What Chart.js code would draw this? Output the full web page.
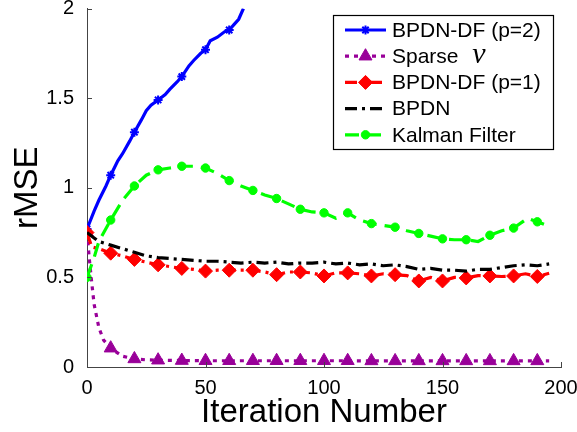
<!DOCTYPE html>
<html><head><meta charset="utf-8">
<script src="https://cdn.jsdelivr.net/npm/chart.js@4/dist/chart.umd.min.js"></script>
<style>html,body{margin:0;padding:0;background:#fff;overflow:hidden;}</style>
</head><body>
<canvas id="c" width="577" height="432"></canvas>
<script>
// ---- data ----
const xTicks = [0, 50, 100, 150, 200];
const yTicks = [0, 0.5, 1, 1.5, 2];
const xTitle = 'Iteration Number';
const yTitle = 'rMSE';
const seriesNames = ['BPDN-DF (p=2)', 'Sparse ', 'BPDN-DF (p=1)', 'BPDN', 'Kalman Filter'];

const bpdnDf2Iter = [0,3,5,8,10,13,15,18,20,23,25,27,30,33,35,38,40,43,45,48,50,52,55,58,60,62,64,66];
const bpdnDf2Rmse = [0.77,0.87,0.93,1.01,1.07,1.15,1.19,1.26,1.31,1.38,1.43,1.46,1.49,1.52,1.55,1.59,1.62,1.68,1.71,1.75,1.77,1.82,1.84,1.87,1.88,1.91,1.94,2.0];

const sparseIter = [0,1,2,3,5,7,10,15,20,25,30,40,50,60,70,80,90,100,110,120,130,140,150,160,170,180,190,195];
const sparseRmse = [0.75,0.60,0.47,0.35,0.22,0.15,0.105,0.06,0.045,0.04,0.038,0.036,0.035,0.035,0.035,0.035,0.035,0.035,0.035,0.034,0.034,0.034,0.034,0.034,0.034,0.034,0.034,0.034];

const bpdnDf1Iter = [0,2,5,10,15,20,25,30,35,40,45,50,55,60,65,70,75,80,85,90,95,100,105,110,115,120,125,130,135,140,145,150,155,160,165,170,175,180,185,190,195];
const bpdnDf1Rmse = [0.75,0.67,0.66,0.635,0.62,0.60,0.585,0.57,0.56,0.55,0.545,0.535,0.54,0.54,0.54,0.54,0.53,0.515,0.53,0.53,0.525,0.508,0.525,0.525,0.52,0.508,0.52,0.515,0.51,0.48,0.50,0.48,0.50,0.497,0.51,0.508,0.505,0.508,0.52,0.505,0.523];

const bpdnIter = [0,3,5,10,15,20,25,30,35,40,45,50,55,60,65,70,75,80,85,90,95,100,105,110,115,120,125,130,135,140,145,150,155,160,165,170,175,180,185,190,195];
const bpdnRmse = [0.75,0.72,0.70,0.68,0.66,0.64,0.62,0.61,0.605,0.60,0.595,0.59,0.59,0.585,0.58,0.585,0.58,0.585,0.575,0.58,0.58,0.585,0.575,0.58,0.57,0.575,0.565,0.57,0.56,0.545,0.55,0.54,0.54,0.535,0.545,0.545,0.555,0.565,0.57,0.565,0.575];

const kalmanIter = [0,3,5,10,15,20,25,30,35,40,45,50,55,60,65,70,75,80,85,90,95,100,105,110,115,120,125,130,135,140,145,150,155,160,165,170,175,180,186,190,195];
const kalmanRmse = [0.50,0.61,0.70,0.82,0.93,1.01,1.07,1.10,1.11,1.12,1.12,1.11,1.08,1.04,1.01,0.985,0.96,0.94,0.91,0.88,0.865,0.86,0.83,0.86,0.82,0.80,0.79,0.78,0.76,0.745,0.73,0.715,0.71,0.71,0.70,0.735,0.76,0.775,0.83,0.81,0.785];

const pts = (xs, ys) => xs.map((x, i) => ({x: x, y: ys[i]}));
const every10 = r => ctx => (ctx.raw && ctx.raw.x % 10 === 0 ? r : 0);

const datasets = [
  {label: seriesNames[0], data: pts(bpdnDf2Iter, bpdnDf2Rmse), borderColor: '#0000ff', backgroundColor: '#0000ff',
   borderWidth: 3.2, borderDash: [], pointStyle: 'star', pointRadius: every10(4.5), pointBorderWidth: 2, order: 4, legendR: 4.5},
  {label: seriesNames[1], data: pts(sparseIter, sparseRmse), borderColor: '#990099', backgroundColor: '#990099',
   borderWidth: 3.2, borderDash: [4, 5], pointStyle: 'triangle', pointRadius: every10(7.5), pointBorderWidth: 1, order: 3, legendR: 7.5},
  {label: seriesNames[2], data: pts(bpdnDf1Iter, bpdnDf1Rmse), borderColor: '#ff0000', backgroundColor: '#ff0000',
   borderWidth: 3.2, borderDash: [12, 5, 3, 5], pointStyle: 'rectRot', pointRadius: every10(7), pointBorderWidth: 1, order: 2, legendR: 7},
  {label: seriesNames[3], data: pts(bpdnIter, bpdnRmse), borderColor: '#000000', backgroundColor: '#000000',
   borderWidth: 3.2, borderDash: [12, 5, 3, 5], pointRadius: 0, order: 1, legendR: 0},
  {label: seriesNames[4], data: pts(kalmanIter, kalmanRmse), borderColor: '#00ff00', backgroundColor: '#00ff00',
   borderWidth: 3.2, borderDash: [14, 8], pointStyle: 'circle', pointRadius: every10(4.2), pointBorderWidth: 1, order: 0, legendR: 4.2}
];
datasets.forEach(d => { d.tension = 0; d.fill = false; d.pointHoverRadius = 0; d.pointBorderColor = d.borderColor; d.pointBackgroundColor = d.borderColor; });

function drawMarker(ctx, style, r, x, y, color) {
  if (!style || !r) return;
  const opts = {pointStyle: style, radius: r, rotation: 0, borderWidth: style === 'star' ? 2 : 1};
  ctx.save();
  ctx.setLineDash([]);
  ctx.fillStyle = color; ctx.strokeStyle = color; ctx.lineWidth = opts.borderWidth;
  if (Chart.helpers && Chart.helpers.drawPoint) {
    Chart.helpers.drawPoint(ctx, opts, x, y);
  } else {
    ctx.beginPath(); ctx.arc(x, y, r, 0, Math.PI * 2); ctx.fill();
  }
  ctx.restore();
}

const decor = {
  id: 'decor',
  afterDraw(chart) {
    const ctx = chart.ctx, xs = chart.scales.x, ys = chart.scales.y, ca = chart.chartArea;
    ctx.save();
    ctx.strokeStyle = '#444'; ctx.lineWidth = 1; ctx.setLineDash([]);
    xTicks.forEach(v => { const px = Math.round(xs.getPixelForValue(v)) + 0.5; ctx.beginPath(); ctx.moveTo(px, ca.bottom); ctx.lineTo(px, ca.bottom - 5); ctx.stroke(); });
    yTicks.forEach(v => { const py = Math.round(ys.getPixelForValue(v)) + 0.5; ctx.beginPath(); ctx.moveTo(ca.left, py); ctx.lineTo(ca.left + 5, py); ctx.stroke(); });
    // legend box
    const bx = 333.5, by = 15.5, bw = 220, bh = 134;
    ctx.fillStyle = '#fff'; ctx.fillRect(bx, by, bw, bh);
    ctx.strokeStyle = '#000'; ctx.lineWidth = 1.2; ctx.strokeRect(bx, by, bw, bh);
    const ds = chart.data.datasets;
    ds.forEach((d, i) => {
      const y = 30 + i * 26.2;
      ctx.save();
      ctx.strokeStyle = d.borderColor; ctx.lineWidth = 3.2; ctx.setLineDash(d.borderDash || []);
      ctx.beginPath(); ctx.moveTo(345, y); ctx.lineTo(386, y); ctx.stroke();
      ctx.restore();
      drawMarker(ctx, d.pointStyle, d.legendR, 365.5, y, d.borderColor);
      ctx.fillStyle = '#000'; ctx.textBaseline = 'middle'; ctx.textAlign = 'left';
      ctx.font = '21px "Liberation Sans", Arial, sans-serif';
      ctx.fillText(d.label, 392, y + 1);
      if (i === 1) {
        const w = ctx.measureText(d.label).width;
        ctx.font = 'italic 30px "Liberation Serif", "Times New Roman", serif';
        ctx.fillText('\u03BD', 392 + w + 8, y - 1);
      }
    });
    ctx.restore();
  }
};

new Chart(document.getElementById('c'), {
  type: 'line',
  data: {datasets: datasets},
  options: {
    responsive: false, animation: false, devicePixelRatio: 1,
    layout: {padding: {top: 8, right: 16, left: 0, bottom: 0}},
    plugins: {legend: {display: false}, tooltip: {enabled: false}},
    scales: {
      x: {
        type: 'linear', min: 0, max: 200,
        afterBuildTicks: s => { s.ticks = xTicks.map(v => ({value: v})); },
        afterFit: s => { s.height = 65; s.paddingLeft = 0; s.paddingRight = 0; },
        grid: {display: false},
        border: {display: true, color: '#444', width: 1},
        ticks: {color: '#000', padding: 1, maxRotation: 0, font: {family: '"Liberation Sans", Arial, sans-serif', size: 20}, callback: v => String(v)},
        title: {display: true, text: xTitle, color: '#000', padding: {top: 0, bottom: -1}, font: {family: '"Liberation Sans", Arial, sans-serif', size: 33}}
      },
      y: {
        type: 'linear', min: 0, max: 2,
        afterBuildTicks: s => { s.ticks = yTicks.map(v => ({value: v})); },
        afterFit: s => { s.width = 87; s.paddingTop = 0; s.paddingBottom = 0; },
        grid: {display: false},
        border: {display: true, color: '#444', width: 1},
        ticks: {color: '#000', padding: 5, font: {family: '"Liberation Sans", Arial, sans-serif', size: 20}, callback: v => String(v)},
        title: {display: true, text: yTitle, color: '#000', padding: {top: 8, bottom: 0}, font: {family: '"Liberation Sans", Arial, sans-serif', size: 33}}
      }
    }
  },
  plugins: [decor]
});
</script>
</body></html>
